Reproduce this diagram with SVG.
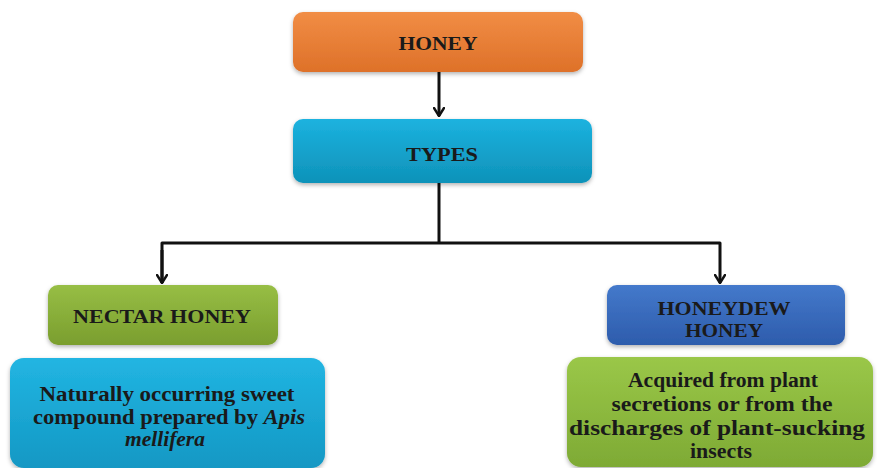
<svg xmlns="http://www.w3.org/2000/svg" width="877" height="468" viewBox="0 0 877 468">
<defs>
<linearGradient id="gOrange" x1="0" y1="0" x2="0" y2="1"><stop offset="0" stop-color="#F18D45"/><stop offset="1" stop-color="#DE7129"/></linearGradient>
<linearGradient id="gCyan" x1="0" y1="0" x2="0" y2="1"><stop offset="0" stop-color="#1CB2DF"/><stop offset="1" stop-color="#0E92B9"/></linearGradient>
<linearGradient id="gGreen" x1="0" y1="0" x2="0" y2="1"><stop offset="0" stop-color="#97BE45"/><stop offset="1" stop-color="#7A9E2E"/></linearGradient>
<linearGradient id="gBlue" x1="0" y1="0" x2="0" y2="1"><stop offset="0" stop-color="#4479CB"/><stop offset="1" stop-color="#2D5CAC"/></linearGradient>
<linearGradient id="gCyan2" x1="0" y1="0" x2="0" y2="1"><stop offset="0" stop-color="#22B5E2"/><stop offset="1" stop-color="#1398C4"/></linearGradient>
<linearGradient id="gGreen2" x1="0" y1="0" x2="0" y2="1"><stop offset="0" stop-color="#9AC748"/><stop offset="1" stop-color="#7EAA35"/></linearGradient>
<filter id="sh" x="-10%" y="-10%" width="120%" height="130%"><feDropShadow dx="0" dy="2" stdDeviation="2" flood-color="#000" flood-opacity="0.3"/></filter>
<marker id="arr" viewBox="0 0 10 12" refX="9" refY="6" markerWidth="10" markerHeight="12" markerUnits="userSpaceOnUse" orient="auto">
<path d="M1,1 L9,6 L1,11" fill="none" stroke="#111" stroke-width="2.4" stroke-linecap="round" stroke-linejoin="round"/>
</marker>
</defs>
<style>
.box{filter:url(#sh);}
.t{font-family:'Liberation Serif','DejaVu Serif',serif;font-weight:bold;fill:#1a1a1a;text-anchor:middle;}
.h{font-size:19px;}
.b{font-size:20px;}
.c{fill:none;stroke:#111;stroke-width:3;}
</style>
<g id="connectors">
<line class="c" x1="439" y1="72" x2="439" y2="116" marker-end="url(#arr)"/>
<line class="c" x1="439" y1="183" x2="439" y2="243"/>
<polyline class="c" points="162,283 162,243 720,243 720,283" stroke-linejoin="round" marker-end="url(#arr)"/>
<line class="c" x1="162" y1="250" x2="162" y2="283" marker-end="url(#arr)"/>
</g>
<g id="honey">
<rect class="box" x="293" y="12" width="290" height="60" rx="10" fill="url(#gOrange)"/>
<text class="t h" x="438" y="50" textLength="79" lengthAdjust="spacingAndGlyphs">HONEY</text>
</g>
<g id="types">
<rect class="box" x="293" y="119" width="299" height="64" rx="10" fill="url(#gCyan)"/>
<text class="t h" x="442" y="161" textLength="72" lengthAdjust="spacingAndGlyphs">TYPES</text>
</g>
<g id="nectar">
<rect class="box" x="48" y="285" width="230" height="60" rx="10" fill="url(#gGreen)"/>
<text class="t h" x="162" y="323" textLength="178" lengthAdjust="spacingAndGlyphs">NECTAR HONEY</text>
</g>
<g id="honeydew">
<rect class="box" x="607" y="285" width="238" height="60" rx="10" fill="url(#gBlue)"/>
<text class="t h" x="724" y="315" textLength="133" lengthAdjust="spacingAndGlyphs">HONEYDEW</text>
<text class="t h" x="724" y="337" textLength="78" lengthAdjust="spacingAndGlyphs">HONEY</text>
</g>
<g id="nectar-desc">
<rect class="box" x="10" y="358" width="315" height="110" rx="14" fill="url(#gCyan2)"/>
<text class="t b" x="167" y="401" textLength="255" lengthAdjust="spacingAndGlyphs">Naturally occurring sweet</text>
<text class="t b" x="169" y="424" textLength="272" lengthAdjust="spacingAndGlyphs">compound prepared by <tspan font-style="italic">Apis</tspan></text>
<text class="t b" x="165" y="446" font-style="italic" textLength="80" lengthAdjust="spacingAndGlyphs">mellifera</text>
</g>
<g id="honeydew-desc">
<rect class="box" x="567" y="357" width="306" height="110" rx="14" fill="url(#gGreen2)"/>
<text class="t b" x="723" y="387" textLength="190" lengthAdjust="spacingAndGlyphs">Acquired from plant</text>
<text class="t b" x="722" y="411" textLength="221" lengthAdjust="spacingAndGlyphs">secretions or from the</text>
<text class="t b" x="717" y="435" textLength="296" lengthAdjust="spacingAndGlyphs">discharges of plant-sucking</text>
<text class="t b" x="721" y="458" textLength="62" lengthAdjust="spacingAndGlyphs">insects</text>
</g>
</svg>
